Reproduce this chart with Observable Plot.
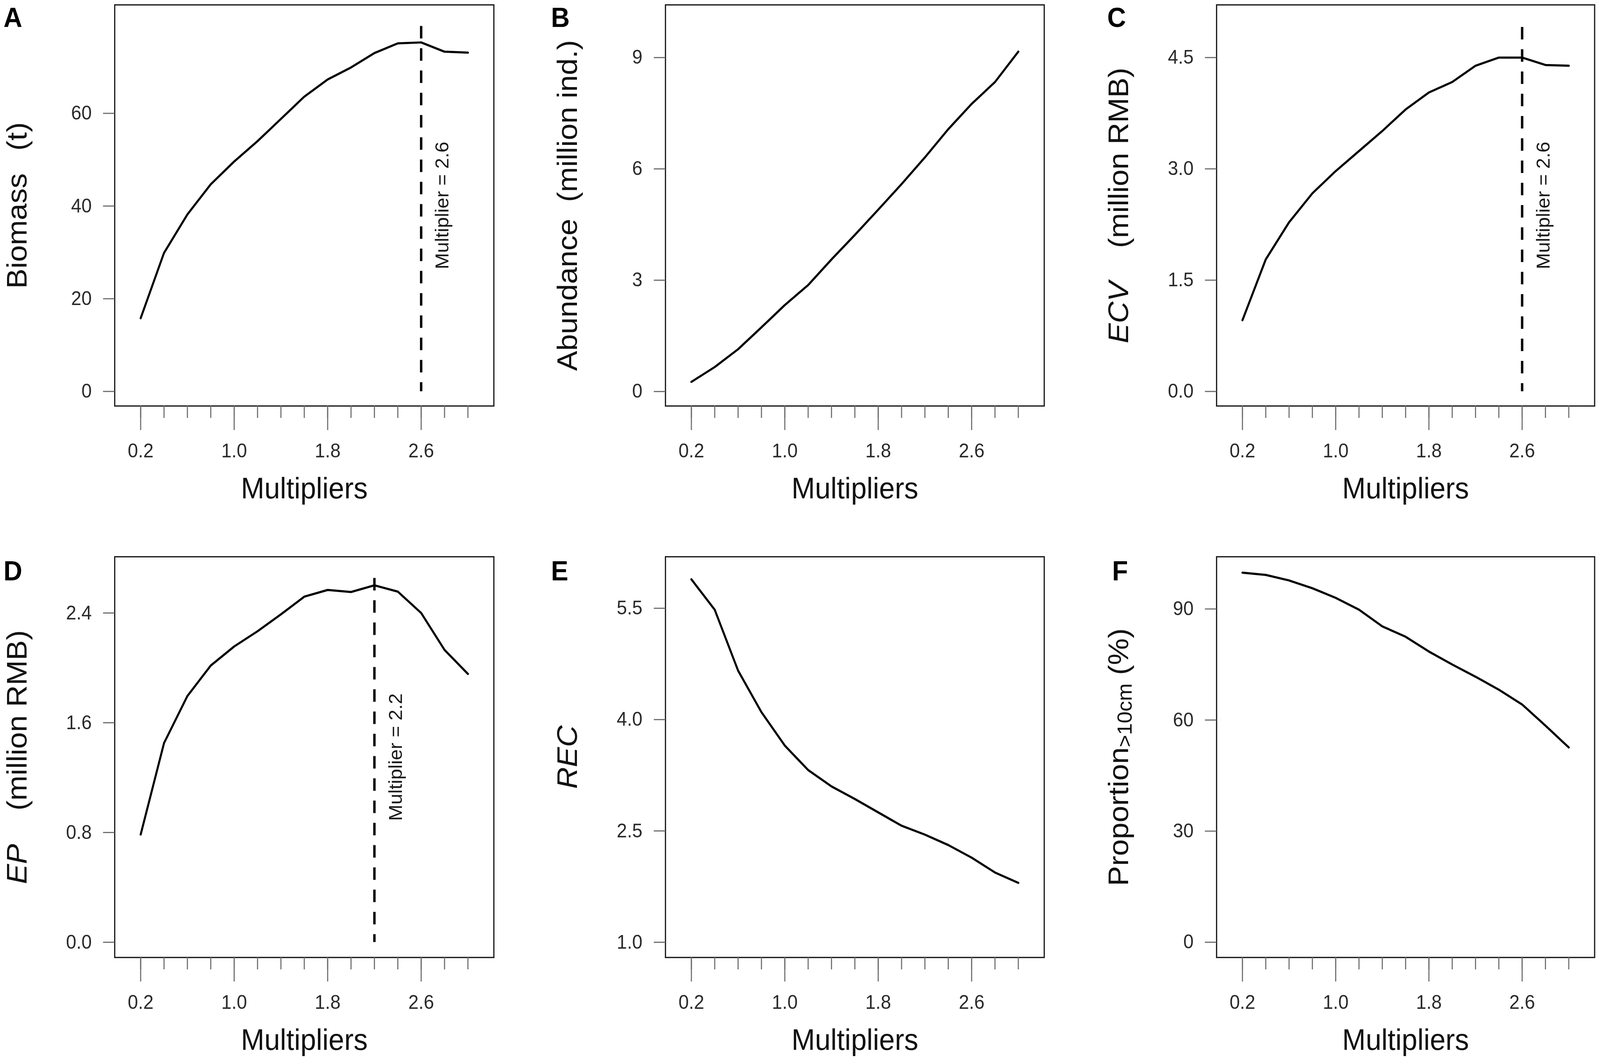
<!DOCTYPE html>
<html><head><meta charset="utf-8">
<script src="https://cdn.jsdelivr.net/npm/d3@7"></script>
<script src="https://cdn.jsdelivr.net/npm/@observablehq/plot@0.6"></script>
<style>
html,body{margin:0;padding:0;background:#fff;overflow:hidden;}
#wrap{position:absolute;left:0;top:0;width:4317px;height:2714px;overflow:hidden;background:#fff;transform-origin:0 0;}
#wrap svg{position:absolute;max-width:none;}
</style></head><body><div id="wrap"></div>
<script>
// ---------- data ----------
const multipliers = [0.2,0.4,0.6,0.8,1.0,1.2,1.4,1.6,1.8,2.0,2.2,2.4,2.6,2.8,3.0];
const majorTicks = [0.2,1.0,1.8,2.6];
const majorTickLabels = ["0.2","1.0","1.8","2.6"];

const biomass    = [15.8,29.9,38.2,44.7,49.6,54.0,58.8,63.6,67.3,69.9,73.0,75.1,75.3,73.3,73.1];
const abundance  = [0.26,0.66,1.14,1.73,2.33,2.87,3.56,4.22,4.90,5.59,6.31,7.07,7.75,8.34,9.16];
const ecv        = [0.96,1.78,2.28,2.67,2.97,3.24,3.51,3.80,4.03,4.17,4.39,4.50,4.50,4.40,4.39];
const ep         = [0.785,1.452,1.795,2.017,2.156,2.267,2.390,2.519,2.568,2.553,2.602,2.556,2.400,2.131,1.956];
const rec        = [5.89,5.48,4.66,4.10,3.65,3.32,3.10,2.93,2.75,2.57,2.45,2.31,2.14,1.94,1.80];
const proportion = [99.8,99.2,97.7,95.6,93.0,89.8,85.3,82.5,78.5,75.0,71.7,68.2,64.2,58.5,52.6];

const panelLetters = ["A","B","C","D","E","F"];
const yTicksA = [0,20,40,60];      const yTickLabelsA = ["0","20","40","60"];
const yTicksB = [0,3,6,9];         const yTickLabelsB = ["0","3","6","9"];
const yTicksC = [0,1.5,3,4.5];     const yTickLabelsC = ["0.0","1.5","3.0","4.5"];
const yTicksD = [0,0.8,1.6,2.4];   const yTickLabelsD = ["0.0","0.8","1.6","2.4"];
const yTicksE = [1,2.5,4,5.5];     const yTickLabelsE = ["1.0","2.5","4.0","5.5"];
const yTicksF = [0,30,60,90];      const yTickLabelsF = ["0","30","60","90"];
const yDomainA = [-3.14, 83.4];
const yDomainB = [-0.39, 10.42];
const yDomainC = [-0.196, 5.21];
const yDomainD = [-0.111, 2.81];
const yDomainE = [0.795, 6.194];
const yDomainF = [-4.12, 104.1];

// optimum markers (dashed line from 0 up to y1)
const optimumA = [{x: 2.6, y1: 78.8, y2: 0, label: "Multiplier = 2.6"}];
const optimumC = [{x: 2.6, y1: 4.91, y2: 0, label: "Multiplier = 2.6"}];
const optimumD = [{x: 2.2, y1: 2.654, y2: 0, label: "Multiplier = 2.2"}];

const xTitle = "Multipliers";
// y titles: [text, style] parts
const yTitleA = [["Biomass",""],["\u00a0\u00a0\u2009(t)",""]];
const yTitleB = [["Abundance",""],["\u00a0\u00a0(million ind.)",""]];
const yTitleC = [["ECV","italic"],["\u00a0\u00a0\u00a0\u00a0(million RMB)",""]];
const yTitleD = [["EP","italic"],["\u00a0\u00a0\u00a0\u00a0(million RMB)",""]];
const yTitleE = [["REC","italic"]];
const yTitleF = [["Proportion",""],[">10cm","sub"],["\u00a0(%)",""]];

// ---------- layout (in reference pixels, 4317 x 2714) ----------
const FONT = '"Liberation Sans", Arial, Helvetica, sans-serif';
const FULLW = 4317, FULLH = 2714;
const PW = 1439, PH = 1357;
const colLeft = [0, 1439, 2878];
const rowTop = [0, 1357];
const mLeft = [309, 356, 404], mRight = [107, 61, 15];
const mTop = [12, 68], mBottom = [318, 263];
const letterX = [9, 1486, 2987, 9, 1486, 3000];
const letterDy = [7, 11];

const panels = [
  {values: biomass,    ticks: yTicksA, labels: yTickLabelsA, domain: yDomainA, title: yTitleA, opt: optimumA},
  {values: abundance,  ticks: yTicksB, labels: yTickLabelsB, domain: yDomainB, title: yTitleB, opt: null},
  {values: ecv,        ticks: yTicksC, labels: yTickLabelsC, domain: yDomainC, title: yTitleC, opt: optimumC},
  {values: ep,         ticks: yTicksD, labels: yTickLabelsD, domain: yDomainD, title: yTitleD, opt: optimumD},
  {values: rec,        ticks: yTicksE, labels: yTickLabelsE, domain: yDomainE, title: yTitleE, opt: null},
  {values: proportion, ticks: yTicksF, labels: yTickLabelsF, domain: yDomainF, title: yTitleF, opt: null}
];

const wrap = document.getElementById("wrap");
// fit the full figure into the actual viewport
const sx = Math.min(1, (window.innerWidth || FULLW) / FULLW);
const sy = Math.min(1, (window.innerHeight || FULLH) / FULLH);
wrap.style.transform = `scale(${sx}, ${sy})`;

const NS = "http://www.w3.org/2000/svg";
const TICK = "#6f6f6f", LAB = "#2a2a2a";

panels.forEach((p, i) => {
  const col = i % 3, row = Math.floor(i / 3);
  const ml = mLeft[col], mr = mRight[col], mt = mTop[row], mb = mBottom[row];
  const data = multipliers.map((m, k) => ({m, v: p.values[k]}));
  const plain = p.title.map(d => d[0]).join("");
  const marks = [
    Plot.frame({stroke: "#1c1c1c", strokeWidth: 3.3}),
    Plot.axisX(multipliers, {tickSize: 31, tickFormat: () => "", label: null, stroke: TICK, strokeWidth: 3}),
    Plot.axisX(majorTicks, {tickSize: 62, tickPadding: 34, label: null, stroke: TICK, strokeWidth: 3,
      fill: LAB, fontSize: 50, tickFormat: d => majorTickLabels[majorTicks.indexOf(d)]}),
    Plot.axisY(p.ticks, {tickSize: 31, tickPadding: 31, label: null, stroke: TICK, strokeWidth: 3,
      fill: LAB, fontSize: 50, tickFormat: d => p.labels[p.ticks.indexOf(d)]}),
    Plot.line(data, {x: "m", y: "v", stroke: "#000", strokeWidth: 5.5, strokeLinejoin: "round", strokeLinecap: "round"}),
    Plot.text([xTitle], {text: d => d, frameAnchor: "bottom", lineAnchor: "bottom", dy: 236, fontSize: 76, fill: "#111"}),
    Plot.text([plain], {text: d => d, frameAnchor: "left", rotate: -90, dx: -263, textAnchor: "middle", lineAnchor: "middle", fontSize: 77, fill: "#111"}),
    Plot.text([panelLetters[i]], {text: d => d, frameAnchor: "top-left", textAnchor: "start", lineAnchor: "top",
      dx: letterX[i] - (colLeft[col] + ml), dy: letterDy[row], fontSize: 70, fontWeight: "bold", fill: "#000"})
  ];
  if (p.opt) {
    marks.push(Plot.ruleX(p.opt, {x: "x", y1: "y1", y2: "y2", stroke: "#000", strokeWidth: 6.5, strokeDasharray: "32,25"}));
    marks.push(Plot.text(p.opt, {x: "x", text: "label", frameAnchor: "middle", rotate: -90, dx: 58,
      textAnchor: "middle", lineAnchor: "middle", fontSize: 50, fill: "#1a1a1a"}));
  }
  const svg = Plot.plot({
    width: PW, height: PH,
    marginLeft: ml, marginRight: mr, marginTop: mt, marginBottom: mb,
    x: {domain: [-0.022, 3.222]},
    y: {domain: p.domain},
    style: {fontFamily: FONT, fontSize: "50px", background: "transparent", overflow: "visible", color: "#111", maxWidth: "none"},
    marks
  });
  svg.style.left = colLeft[col] + "px";
  svg.style.top = rowTop[row] + "px";
  // mixed-style y title (italic symbols, subscript)
  svg.querySelectorAll("text").forEach(t => {
    if (t.textContent === plain && t.children.length === 0) {
      while (t.firstChild) t.removeChild(t.firstChild);
      let prevSub = false;
      p.title.forEach(([s, style]) => {
        const ts = document.createElementNS(NS, "tspan");
        ts.textContent = s;
        if (style === "italic") ts.setAttribute("font-style", "italic");
        if (style === "sub") { ts.setAttribute("font-size", "54"); ts.setAttribute("dy", "9"); }
        else if (prevSub) ts.setAttribute("dy", "-9");
        prevSub = style === "sub";
        t.appendChild(ts);
      });
    }
  });
  wrap.appendChild(svg);
});
</script></body></html>
